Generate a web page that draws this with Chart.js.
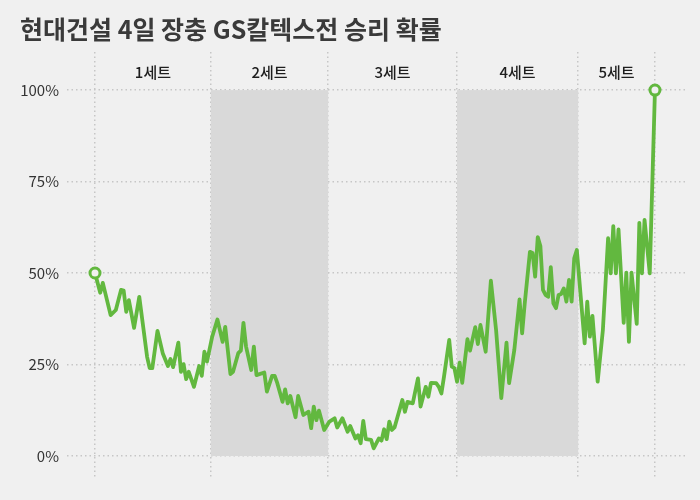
<!DOCTYPE html>
<html>
<head>
<meta charset="utf-8">
<script src="https://cdn.jsdelivr.net/npm/chart.js@4"></script>
<style>
  html, body { margin: 0; padding: 0; background: #f0f0f0; }
  #wrap { width: 700px; height: 500px; }
</style>
</head>
<body>
<div id="wrap"><canvas id="chart" width="700" height="500"></canvas></div>
<script>
// 세트 구분 (랠리 번호 기준)
var setNames = ['1세트', '2세트', '3세트', '4세트', '5세트'];
var setBounds = [0, 44.5, 89.5, 139, 185.5, 215];
var shadedSets = [1, 3];
var yTicks = [0, 25, 50, 75, 100];

// 랠리 번호
var rallyNo = [
  0, 2, 3, 6, 8, 10, 11, 12, 13, 15, 17, 20, 21, 22, 24, 26, 28, 29, 30, 32,
  33, 34, 35, 36, 38, 40, 41, 42, 43, 45, 47, 49, 50, 52, 53, 55, 56, 57, 58, 60,
  61, 62, 65, 66, 68, 69, 70, 72, 73, 74, 75, 77, 78, 80, 82, 83, 84, 85, 86, 88,
  90, 92, 93, 95, 97, 98, 100, 101, 102, 103, 104, 106, 107, 109, 110, 111, 112, 113, 114, 115,
  118, 119, 120, 122, 124, 125, 127, 128, 129, 131, 132, 133, 134, 136, 137, 138, 139, 140, 141, 143,
  144, 146, 147, 148, 150, 152, 154, 156, 158, 159, 161, 163, 164, 165, 167, 168, 169, 170, 171, 172,
  173, 174, 175, 176, 177, 178, 179, 180, 181, 182, 183, 184, 185, 188, 189, 190, 191, 193, 195, 197,
  198, 199, 200, 201, 203, 204, 205, 206, 208, 209, 210, 211, 213, 215
];

// 현대건설 승리 확률 (%)
var winProb = [
  50, 44.6, 47.3, 38.5, 39.9, 45.4, 45.2, 39.4, 42.6, 35.0, 43.5, 27.1, 24.0, 24.0, 34.2, 28.1, 24.6, 26.5, 24.3, 31.0,
  23.0, 25.1, 21.0, 23.0, 18.9, 24.6, 21.9, 28.5, 25.8, 32.6, 37.3, 31.2, 35.3, 22.4, 23.0, 28.1, 28.8, 36.4, 29.9, 23.5,
  29.9, 22.1, 22.8, 17.6, 21.9, 21.9, 19.9, 14.8, 18.2, 14.4, 16.4, 10.6, 16.4, 11.2, 12.1, 7.6, 13.5, 9.8, 12.4, 7.1,
  9.4, 10.3, 7.8, 10.3, 6.6, 8.2, 4.8, 5.7, 3.5, 9.6, 4.6, 4.4, 2.1, 4.8, 4.2, 7.3, 4.6, 9.4, 7.1, 7.8,
  15.3, 12.1, 14.8, 14.4, 21.2, 13.5, 18.9, 16.2, 20.0, 19.9, 18.9, 17.1, 21.7, 31.7, 24.4, 24.0, 20.3, 25.5, 20.0, 31.9,
  28.8, 35.2, 30.6, 35.8, 28.5, 47.9, 34.4, 15.8, 31.0, 19.9, 29.0, 42.8, 33.5, 41.7, 55.8, 55.5, 49.0, 59.8, 57.4, 45.4,
  44.0, 43.5, 51.6, 41.7, 40.4, 44.0, 44.3, 45.8, 42.2, 48.1, 42.2, 54.0, 56.3, 30.8, 42.2, 32.6, 38.3, 20.3, 34.4, 59.5,
  49.9, 62.8, 49.9, 61.9, 36.4, 50.1, 31.2, 50.1, 36.1, 63.7, 49.9, 64.5, 49.9, 100
];

var FONT = '"Noto Sans CJK KR", "Noto Sans", sans-serif';
var GREEN = '#62b83f';
var GRID = '#c6c6c6';

var points = rallyNo.map(function(r, i) {
  return { x: r, y: winProb[i] };
});
var radii = points.map(function(p, i) {
  return (i === 0 || i === points.length - 1) ? 5 : 0;
});

// 세트 음영과 세트 이름
var setPlugin = {
  id: 'sets',
  beforeDatasetsDraw: function(chart) {
    var ctx = chart.ctx;
    var x = chart.scales.x;
    var y = chart.scales.y;
    ctx.save();
    ctx.fillStyle = '#d9d9d9';
    shadedSets.forEach(function(s) {
      var x0 = x.getPixelForValue(setBounds[s]);
      var x1 = x.getPixelForValue(setBounds[s + 1]);
      var y0 = y.getPixelForValue(100);
      var y1 = y.getPixelForValue(0);
      ctx.fillRect(x0, y0, x1 - x0, y1 - y0);
    });
    ctx.fillStyle = '#1e1e1e';
    ctx.font = '500 15px ' + FONT;
    ctx.textAlign = 'center';
    ctx.textBaseline = 'middle';
    setNames.forEach(function(name, s) {
      var cx = x.getPixelForValue((setBounds[s] + setBounds[s + 1]) / 2);
      ctx.fillText(name, cx, y.getPixelForValue(104.9));
    });
    ctx.restore();
  }
};

new Chart(document.getElementById('chart'), {
  type: 'line',
  data: {
    datasets: [{
      data: points,
      borderColor: GREEN,
      borderWidth: 3.8,
      borderJoinStyle: 'round',
      tension: 0,
      pointRadius: radii,
      pointBackgroundColor: '#f0f0f0',
      pointBorderColor: GREEN,
      pointBorderWidth: 3,
      pointHoverRadius: 0
    }]
  },
  options: {
    responsive: false,
    animation: false,
    layout: { padding: { left: 20, right: 13, bottom: 23 } },
    plugins: {
      legend: { display: false },
      tooltip: { enabled: false },
      title: {
        display: true,
        text: '현대건설 4일 장충 GS칼텍스전 승리 확률',
        align: 'start',
        color: '#3a3a3a',
        font: { family: FONT, size: 25, weight: 'bold' },
        padding: { top: 14, bottom: 8 }
      }
    },
    scales: {
      x: {
        type: 'linear',
        min: -10.75,
        max: 227.3,
        afterBuildTicks: function(scale) {
          scale.ticks = setBounds.map(function(v) { return { value: v }; });
        },
        afterFit: function(scale) { scale.height = 0; },
        ticks: { display: false },
        border: { display: false, dash: [1.5, 3] },
        grid: { color: GRID, lineWidth: 1.5, drawTicks: false }
      },
      y: {
        min: -5.74,
        max: 110.4,
        afterBuildTicks: function(scale) {
          scale.ticks = yTicks.map(function(v) { return { value: v }; });
        },
        afterFit: function(scale) { scale.width = 47; },
        ticks: {
          padding: 8,
          color: '#333',
          font: { family: FONT, size: 15 },
          callback: function(v) { return v + '%'; }
        },
        border: { display: false, dash: [1.5, 3] },
        grid: { color: GRID, lineWidth: 1.5, drawTicks: false }
      }
    }
  },
  plugins: [setPlugin]
});
</script>
</body>
</html>
